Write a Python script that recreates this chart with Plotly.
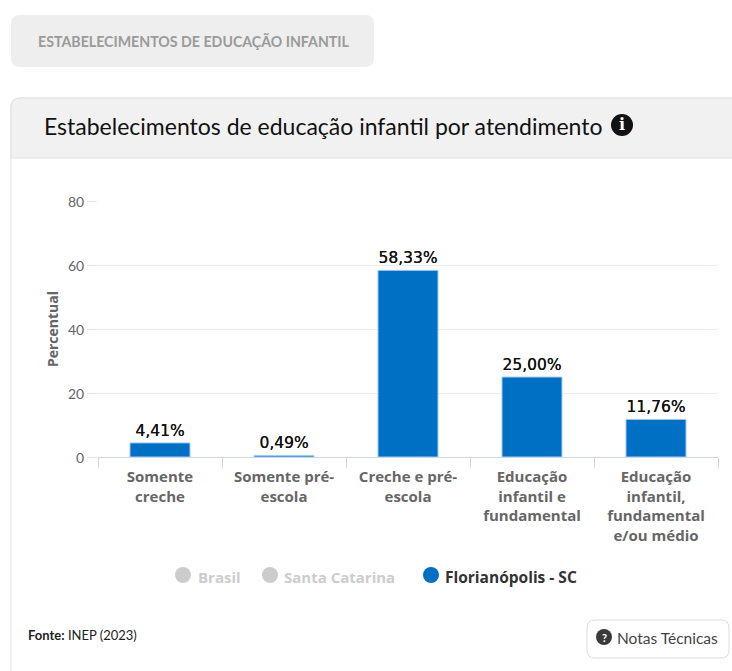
import plotly.graph_objects as go

W, H = 732, 671
categories = ["Somente creche", "Somente pré-escola", "Creche e pré-escola",
              "Educação infantil e fundamental", "Educação infantil, fundamental e/ou médio"]
tick_labels = ["Somente<br>creche", "Somente pré-<br>escola", "Creche e pré-<br>escola",
               "Educação<br>infantil e<br>fundamental", "Educação<br>infantil,<br>fundamental<br>e/ou médio"]
values = [4.41, 0.49, 58.33, 25.00, 11.76]
y_ticks = [0, 20, 40, 60, 80]
series_name = "Florianópolis - SC"
hidden_series = ["Brasil", "Santa Catarina"]
FONT = "Lato"
BOLD = "Open Sans"
NUM = "DejaVu Sans"

def px(x): return x / W
def py(y): return 1 - y / H

def rrect(x0, y0, x1, y1, r, fill, line=None, tl=True, tr=True, bl=True, br=True):
    d = f"M{px(x0 + (r if tl else 0))},{py(y0)} L{px(x1 - (r if tr else 0))},{py(y0)} "
    if tr: d += f"Q{px(x1)},{py(y0)} {px(x1)},{py(y0 + r)} "
    d += f"L{px(x1)},{py(y1 - (r if br else 0))} "
    if br: d += f"Q{px(x1)},{py(y1)} {px(x1 - r)},{py(y1)} "
    d += f"L{px(x0 + (r if bl else 0))},{py(y1)} "
    if bl: d += f"Q{px(x0)},{py(y1)} {px(x0)},{py(y1 - r)} "
    d += f"L{px(x0)},{py(y0 + (r if tl else 0))} "
    if tl: d += f"Q{px(x0)},{py(y0)} {px(x0 + r)},{py(y0)} "
    d += "Z"
    return dict(type="path", xref="paper", yref="paper", path=d, fillcolor=fill,
                line=dict(color=line or fill, width=1 if line else 0), layer="below")

def circle(cx, cy, r, fill):
    return dict(type="circle", xref="paper", yref="paper", x0=px(cx - r), x1=px(cx + r),
                y0=py(cy + r), y1=py(cy - r), fillcolor=fill, line=dict(width=0), layer="above")

def text(x, y, s, size, color, anchor="left", family=FONT, weight="normal"):
    return dict(xref="paper", yref="paper", x=px(x), y=py(y), text=s, showarrow=False,
                xanchor=anchor, yanchor="middle", borderpad=0,
                font=dict(family=family, size=size, color=color, weight=weight))

fig = go.Figure(go.Bar(
    x=categories, y=values, name=series_name,
    marker=dict(color="#0070c4", line=dict(color="#a8cdee", width=1)),
    texttemplate="%{y:.2f}%", textposition="outside", cliponaxis=False,
    textfont=dict(family=NUM, size=15.5, color="#111111", shadow="0.15px 0 0 #111111"),
    showlegend=False,
))

shapes = [
    rrect(11, 15, 374, 67, 9, "#eeeeee"),
    rrect(11, 98, 760, 700, 9, "#ffffff", line="#e2e2e2"),
    rrect(11, 98, 760, 158, 9, "#f1f1f1", line="#e0e0e0", bl=False, br=False),
    rrect(587, 620, 729, 658, 8, "#ffffff", line="#dcdcdc"),
    circle(622, 125, 11, "#111111"),
    circle(604, 637, 8, "#3a3a3a"),
    circle(183, 575, 8, "#cccccc"),
    circle(270, 575, 8, "#cccccc"),
    circle(431, 575, 8, "#0070c4"),
]
annotations = [
    text(37, 41, "ESTABELECIMENTOS DE EDUCAÇÃO INFANTIL", 14.2, "#9a9a9a", weight="bold"),
    text(43, 126, "Estabelecimentos de educação infantil por atendimento", 23, "#111111"),
    text(622, 125, "<b>i</b>", 16, "#ffffff", "center", "DejaVu Serif"),
    text(604, 637, "<b>?</b>", 11, "#ffffff", "center"),
    text(616, 638, "Notas Técnicas", 15.5, "#444444"),
    text(27, 635, "<b>Fonte:</b> INEP (2023)", 13, "#222222"),
    text(197, 577, hidden_series[0], 15, "#cccccc", family=BOLD, weight="bold"),
    text(283, 577, hidden_series[1], 15, "#cccccc", family=BOLD, weight="bold"),
    text(444, 577, series_name, 15.5, "#333333", family=BOLD, weight="bold"),
]

fig.update_layout(
    width=W, height=H, autosize=False,
    margin=dict(l=0, r=0, t=0, b=0, autoexpand=False),
    paper_bgcolor="#ffffff", plot_bgcolor="rgba(0,0,0,0)", separators=",.",
    bargap=0.516, shapes=shapes, annotations=annotations,
    font=dict(family=FONT),
    xaxis=dict(domain=[px(98), px(718)], type="category", tickmode="array",
               tickvals=categories, ticktext=tick_labels, tickson="boundaries",
               ticks="outside", ticklen=10, tickcolor="#ccd6eb", tickwidth=1,
               showline=True, linecolor="#ccd6eb", showgrid=False, ticklabelstandoff=6,
               tickfont=dict(family=BOLD, size=15, color="#666666", weight="bold")),
    yaxis=dict(domain=[py(457), py(201)], range=[0, 80], tickvals=y_ticks,
               ticks="outside", ticklen=10, tickcolor="#dfe6f3", gridcolor="#e9edf4",
               zeroline=False, showline=False, ticklabelshift=1,
               tickfont=dict(family=FONT, size=14, color="#666666"),
               title=dict(text="Percentual", standoff=6,
                          font=dict(family=BOLD, size=14, color="#666666", weight="bold"))),
)
fig.write_html("out.html", post_script="document.body.style.margin='0';",
               config=dict(displayModeBar=False))
